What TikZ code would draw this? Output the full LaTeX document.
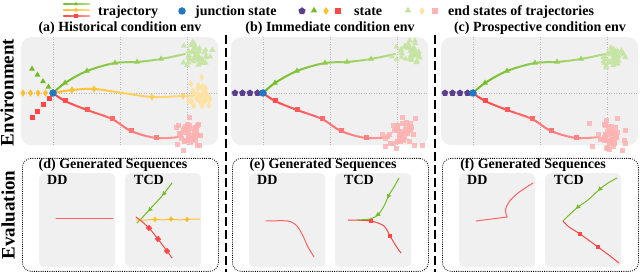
\documentclass[tikz,border=0pt]{standalone}
\usepackage{fontspec}
\setmainfont{Liberation Serif}
\usetikzlibrary{shapes.geometric}
\definecolor{cgreen}{HTML}{72BD22}
\definecolor{cgreenl}{HTML}{C6E4A2}
\definecolor{cyel}{HTML}{FFBE2A}
\definecolor{cyell}{HTML}{FFE2A0}
\definecolor{cred}{HTML}{FF4646}
\definecolor{credl}{HTML}{FFB2B2}
\definecolor{cpur}{HTML}{5B3F8C}
\definecolor{cblue}{HTML}{1E78C2}
\definecolor{panelgray}{HTML}{F0F0F0}

\tikzset{
  txt/.style={inner sep=0pt, font=\bfseries\fontsize{14}{16}\selectfont},
  gridln/.style={gray!55, line width=0.5pt, dash pattern=on 1pt off 1.5pt},
  tri/.style={regular polygon, regular polygon sides=3, inner sep=0pt, minimum size=7pt},
  sqm/.style={rectangle, inner sep=0pt, minimum size=5pt},
  dia/.style={diamond, inner sep=0pt, minimum width=5pt, minimum height=7.5pt},
  pent/.style={regular polygon, regular polygon sides=5, inner sep=0pt, minimum size=7pt},
  junc/.style={circle, fill=cblue, inner sep=0pt, minimum size=7.5pt},
  ev/.style={line width=1pt, line cap=round, line join=round},
  panel/.style={fill=panelgray, rounded corners=10pt, inner sep=0pt, anchor=north west},
  subpanel/.style={fill=panelgray, rounded corners=5pt, inner sep=0pt, anchor=north west, minimum width=76pt, minimum height=94pt},
  evbox/.style={draw, line width=0.8pt, dash pattern=on 1pt off 1.2pt, rounded corners=9pt, inner sep=0pt, anchor=north west, minimum width=196pt, minimum height=113pt},
  sep/.style={line width=1.1pt, dash pattern=on 9pt off 4pt},
}

% gradient trajectory: #1 dark, #2 light, #3 x start, #4 x end, #5 width, #6 coordinates
\newcommand\gtraj[6]{%
  \foreach \k in {0,...,11}{%
    \pgfmathsetmacro\xa{#3+(#4-#3)*\k/12-0.3}%
    \pgfmathsetmacro\xb{#3+(#4-#3)*(\k+1)/12+0.3}%
    \pgfmathtruncatemacro\pc{100-\k*7}%
    \begin{scope}
      \clip (\xa,-10) rectangle (\xb,300);
      \draw[line width=#5, line cap=round, #1!\pc!#2] plot[smooth, tension=0.55] coordinates {#6};
    \end{scope}}}

% scatter cluster: #1 style, #2 cx, #3 cy, #4 sx, #5 sy, #6 n
\newcommand\cluster[6]{%
  \foreach \k in {1,...,#6}{%
    \pgfmathsetmacro\px{#2+(rand+rand+rand)*#4/2}%
    \pgfmathsetmacro\py{#3+(rand+rand+rand)*#5/2}%
    \node[#1] at (\px,\py) {};}}

% green and red trajectories of an environment panel
\newcommand\greenred[5]{%
  \gtraj{cgreen}{cgreenl}{50}{190}{2pt}{(53,93) (65,83) (87,71) (115,63) (137,62) (161,59) (185,54)}
  \gtraj{cred}{credl}{50}{183}{2pt}{(53,93) (65,101) (87,110) (112,119) (131,131) (156,138) (179,137)}
  \pgfmathsetseed{#5}
  \cluster{tri, fill=cgreenl, fill opacity=0.9}{#1}{#2}{13}{12}{42}
  \cluster{sqm, fill=credl, fill opacity=0.85}{#3}{#4}{15}{14}{46}
  \foreach \a/\b/\c in {65/83/95, 87/71/82, 115/63/68, 137/62/56, 161/59/44}
    {\node[tri, fill=cgreen!\c!cgreenl] at (\a,\b) {};}
  \foreach \a/\b/\c in {65/101/95, 87/110/82, 112/119/68, 131/131/56, 156/138/44}
    {\node[sqm, fill=cred!\c!credl] at (\a,\b) {};}
}

\newcommand\gridlines{%
  \foreach \gx in {53,120,187}{\draw[gridln] (\gx,37) -- (\gx,145);}
  \draw[gridln] (21,93) -- (218,93);}

\begin{document}
\begin{tikzpicture}[x=1pt, y=-1pt]
\useasboundingbox (0,0) rectangle (640,272);

% ---------------- legend ----------------
\gtraj{cgreen}{cgreenl}{63}{90}{2.6pt}{(64,4) (89,4)}
\gtraj{cyel}{cyell}{63}{90}{2.6pt}{(64,10) (89,10)}
\gtraj{cred}{credl}{63}{90}{2.6pt}{(64,16) (89,16)}
\node[tri, minimum size=4.5pt, fill=cgreen] (lg1) at (76,4) {};
\node[dia, minimum width=3.5pt, minimum height=5pt, fill=cyel] (lg2) at (76,10) {};
\node[sqm, minimum size=3.5pt, fill=cred] (lg3) at (76,16) {};
\node[txt, anchor=base west] (ltraj) at (98,15.5) {trajectory};
\node[junc] (lgj) at (182,11) {};
\node[txt, anchor=base west] (ljunc) at (195,15.5) {junction state};
\node[pent, minimum size=7.5pt, fill=cpur] (ls1) at (302,11) {};
\node[tri, minimum size=7.5pt, fill=cgreen] (ls2) at (314,10.5) {};
\node[dia, minimum width=5.5pt, minimum height=8pt, fill=cyel] (ls3) at (326,11) {};
\node[sqm, minimum size=6pt, fill=cred] (ls4) at (338,11) {};
\node[txt, anchor=base west] (lstate) at (354,15.5) {state};
\node[tri, minimum size=7.5pt, fill=cgreenl] (le1) at (408,10.5) {};
\node[dia, minimum width=5.5pt, minimum height=8pt, fill=cyell] (le2) at (422,11) {};
\node[sqm, minimum size=6pt, fill=credl] (le3) at (435,11) {};
\node[txt, anchor=base west] (lend) at (448,15.5) {end states of trajectories};

% ---------------- titles ----------------
\node[txt, anchor=base] (ta) at (120,32) {(a) Historical condition env};
\node[txt, anchor=base] (tb) at (330,32) {(b) Immediate condition env};
\node[txt, anchor=base] (tc) at (540,32) {(c) Prospective condition env};

\node[rotate=90, anchor=base, inner sep=0pt, font=\bfseries\fontsize{19}{20}\selectfont] (envlab) at (13.5,92.5) {Environment};
\node[rotate=90, anchor=base, inner sep=0pt, font=\bfseries\fontsize{19}{20}\selectfont] (evallab) at (14.5,215) {Evaluation};

% separators
\coordinate (s1t) at (226,35); \coordinate (s1b) at (226,272);
\coordinate (s2t) at (435,35); \coordinate (s2b) at (435,272);
\draw[sep] (s1t) -- (s1b);
\draw[sep] (s2t) -- (s2b);

% ---------------- panel (a) ----------------
\node[panel, minimum width=197pt, minimum height=108pt] (pa) at (21,37) {};
\gridlines
\gtraj{cyel}{cyell}{50}{196}{2pt}{(53,93) (72,90) (94,89) (123,93) (152,97) (183,96) (194,95.5)}
\greenred{197}{53}{188}{133}{7}
\pgfmathsetseed{21}
\cluster{dia, fill=cyell, fill opacity=0.9}{200}{95}{9}{14}{36}
\foreach \a/\b/\c in {72/90/95, 94/89/82, 152/97/56, 183/96/44}
  {\node[dia, fill=cyel!\c!cyell] at (\a,\b) {};}
\foreach \a/\b in {32/69, 37.5/75, 43/81.5, 48.5/87}
  {\node[tri, fill=cgreen] at (\a,\b) {};}
\foreach \a in {23,30.5,38,45.5}
  {\node[dia, fill=cyel] at (\a,93) {};}
\foreach \a/\b in {32/118, 37.5/111.5, 43/105, 49/99}
  {\node[sqm, fill=cred] at (\a,\b) {};}
\node[junc] (ja) at (53,93) {};

% ---------------- panel (b) ----------------
\begin{scope}[xshift=210pt]
\node[panel, minimum width=197pt, minimum height=108pt] (pb) at (21,37) {};
\gridlines
\greenred{197}{52}{192}{135}{11}
\foreach \a in {25,32.5,40,47.5}
  {\node[pent, fill=cpur] at (\a,93) {};}
\node[junc] (jb) at (53,93) {};
\end{scope}

% ---------------- panel (c) ----------------
\begin{scope}[xshift=420pt]
\node[panel, minimum width=197pt, minimum height=108pt] (pc) at (21,37) {};
\gridlines
\greenred{194}{57}{189}{135}{5}
\foreach \a in {25,32.5,40,47.5}
  {\node[pent, fill=cpur] at (\a,93) {};}
\node[junc] (jc) at (53,93) {};
\end{scope}

% ---------------- evaluation boxes ----------------
\node[evbox] (bd) at (22,158) {};
\node[evbox] (be) at (232,158) {};
\node[evbox] (bf) at (442,158) {};
\node[txt, anchor=base] (td) at (113,168.5) {(d) Generated Sequences};
\node[txt, anchor=base] (te) at (323,168.5) {(e) Generated Sequences};
\node[txt, anchor=base] (tf) at (533,168.5) {(f) Generated Sequences};

\foreach \o/\n in {0/d, 210/e, 420/f}{
  \node[subpanel] (dd\n) at (39+\o,173) {};
  \node[subpanel] (tcd\n) at (125+\o,173) {};
  \node[txt, anchor=base west] (ddl\n) at (47+\o,185) {DD};
  \node[txt, anchor=base west] (tcdl\n) at (134+\o,185) {TCD};
}

% (d)
\draw[ev, cred!85] (56,219) -- (113,219);
\draw[ev, cgreen] plot[smooth, tension=0.5] coordinates {(137,223) (140,220) (151,208) (162,196) (172,183)};
\draw[ev, cyel] plot[smooth, tension=0.5] coordinates {(136,220) (147,220) (155,219.3) (163,220) (171,219) (179,220) (187,219.3) (200,219)};
\draw[ev, cred] plot[smooth, tension=0.5] coordinates {(136,217) (140,220) (149,228) (158,239) (167,251) (172,258)};
\foreach \a/\b in {150/209.5, 164/193.5}{\node[tri, minimum size=5.5pt, fill=cgreen, rotate=139] at (\a,\b) {};}
\foreach \a/\b in {155/219.5, 171/219, 187/219.5}{\node[dia, minimum width=4.5pt, minimum height=6pt, fill=cyel] at (\a,\b) {};}
\foreach \a/\b in {149/228, 158/239, 167/251}{\node[sqm, minimum size=4.5pt, fill=cred, rotate=40] at (\a,\b) {};}

% (e)
\draw[ev, cred!85] plot[smooth, tension=0.45] coordinates {(266,221) (288,221) (297,226) (303,236) (308,247) (314,257)};
\draw[ev, cred] plot[smooth, tension=0.45] coordinates {(348,220) (371,221) (384,226) (390,236) (396,246) (401,253)};
\draw[ev, cgreen] plot[smooth, tension=0.45] coordinates {(357,220) (370,219) (378,215) (384,206) (389,195) (394,187) (399,178)};
\node[tri, minimum size=5.5pt, fill=cgreen, rotate=120] at (378,214.5) {};
\node[tri, minimum size=5.5pt, fill=cgreen, rotate=155] at (388.5,196) {};
\node[sqm, minimum size=4.8pt, fill=cred] at (371,221) {};
\node[sqm, minimum size=4.8pt, fill=cred] at (390,236) {};

% (f)
\draw[ev, cred!85] (476,221) -- (507,217);
\draw[ev, cred!85] plot[smooth, tension=0.5] coordinates {(507,217) (505.5,210) (509,202) (518,193) (533,183)};
\draw[ev, cgreen] plot[smooth, tension=0.5] coordinates {(563,221) (568,216) (578,207) (588,200) (600,189) (608,183) (617,178)};
\draw[ev, cred] plot[smooth, tension=0.5] coordinates {(563,221) (569,227) (580,234) (598,247) (610,256) (619,263)};
\node[tri, minimum size=5.5pt, fill=cgreen, rotate=132] at (578,207) {};
\node[tri, minimum size=5.5pt, fill=cgreen, rotate=132] at (600,189) {};
\node[sqm, minimum size=4.8pt, fill=cred] at (580,234) {};
\node[sqm, minimum size=4.8pt, fill=cred] at (598,247) {};

\end{tikzpicture}
\end{document}
